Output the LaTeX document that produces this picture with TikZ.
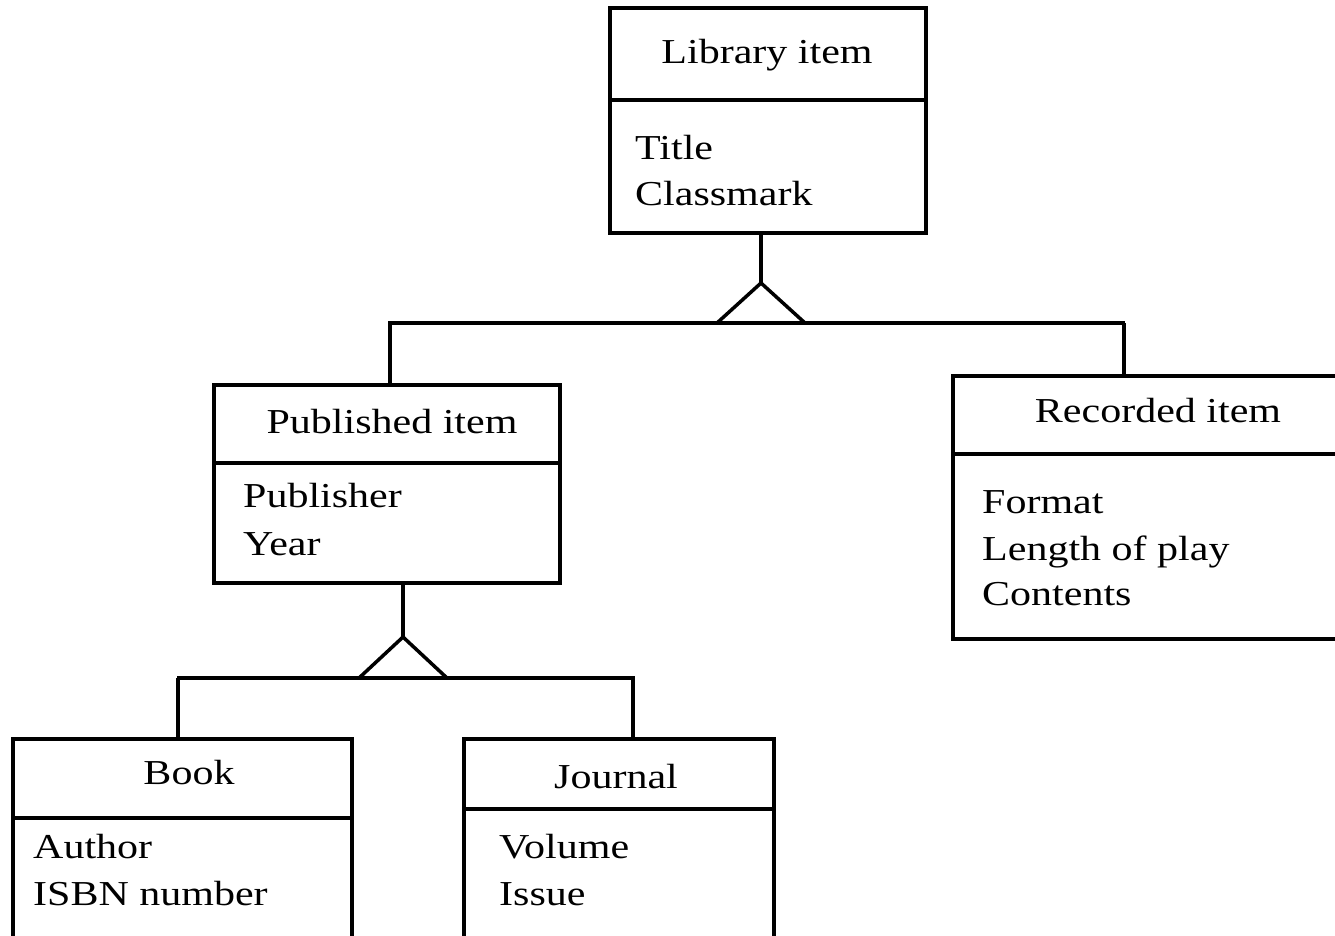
\documentclass[tikz,border=0pt]{standalone}
\usepackage{fontspec}
\setmainfont{Liberation Serif}[FakeStretch=1.2]
\begin{document}
\begin{tikzpicture}[x=1pt,y=-1pt,
  every node/.style={font=\fontsize{35}{40}\selectfont},
  classbox/.style={draw,line width=3.5pt,rectangle,inner sep=0pt},
  rule/.style={line width=3.5pt},
  link/.style={line width=3.5pt},
  head/.style={anchor=base,inner sep=0pt},
  attr/.style={anchor=base west,inner sep=0pt}]
\clip (0,0) rectangle (1335,935);

% ---- class boxes ----
\node[classbox,minimum width=316pt,minimum height=225pt] (lib)  at (768,120.5) {};
\node[classbox,minimum width=346pt,minimum height=198pt] (pub)  at (387,484) {};
\node[classbox,minimum width=397pt,minimum height=263pt] (rec)  at (1151.5,507.5) {};
\node[classbox,minimum width=339pt,minimum height=231pt] (book) at (182.5,854.5) {};
\node[classbox,minimum width=310pt,minimum height=231pt] (jour) at (619,854.5) {};

% ---- compartment dividers ----
\draw[rule] (lib.west  |- 0,100) -- (lib.east  |- 0,100);
\draw[rule] (pub.west  |- 0,463) -- (pub.east  |- 0,463);
\draw[rule] (rec.west  |- 0,454) -- (rec.east  |- 0,454);
\draw[rule] (book.west |- 0,818) -- (book.east |- 0,818);
\draw[rule] (jour.west |- 0,809) -- (jour.east |- 0,809);

% ---- class names ----
\node[head] (lib-name)  at (767,63)  {Library item};
\node[head] (pub-name)  at (392,433) {Published item};
\node[head] (rec-name)  at (1158,422) {Recorded item};
\node[head] (book-name) at (189,784) {Book};
\node[head] (jour-name) at (616,788) {Journal};

% ---- attributes ----
\node[attr] (lib-a1) at (635,159) {Title};
\node[attr] (lib-a2) at (635,205) {Classmark};
\node[attr] (pub-a1) at (243,507) {Publisher};
\node[attr] (pub-a2) at (243,555) {Year};
\node[attr] (rec-a1) at (982,513) {Format};
\node[attr] (rec-a2) at (982,560) {Length of play};
\node[attr] (rec-a3) at (982,605) {Contents};
\node[attr] (book-a1) at (33,858) {Author};
\node[attr] (book-a2) at (33,905) {ISBN number};
\node[attr] (jour-a1) at (499,858) {Volume};
\node[attr] (jour-a2) at (499,905) {Issue};

% ---- generalisation: Library item -> Published / Recorded ----
\coordinate (g1)  at (761,283);
\coordinate (g1l) at (717,323);
\coordinate (g1r) at (805,323);
\coordinate (h1l) at (388,323);
\coordinate (h1r) at (1125,323);
\coordinate (d1)  at (390,323);
\coordinate (d2)  at (1124,323);
\draw[link] (g1 |- lib.south) -- (g1);
\draw[link] (g1) -- (g1l) -- (g1r) -- cycle;
\draw[link] (h1l) -- (h1r);
\draw[link] (d1) -- (d1 |- pub.north);
\draw[link] (d2) -- (d2 |- rec.north);

% ---- generalisation: Published item -> Book / Journal ----
\coordinate (g2)  at (403,637);
\coordinate (g2l) at (359,678);
\coordinate (g2r) at (447,678);
\coordinate (h2l) at (177,678);
\coordinate (h2r) at (635,678);
\coordinate (d3)  at (178,678);
\coordinate (d4)  at (633,678);
\draw[link] (g2 |- pub.south) -- (g2);
\draw[link] (g2) -- (g2l) -- (g2r) -- cycle;
\draw[link] (h2l) -- (h2r);
\draw[link] (d3) -- (d3 |- book.north);
\draw[link] (d4) -- (d4 |- jour.north);
\end{tikzpicture}
\end{document}
